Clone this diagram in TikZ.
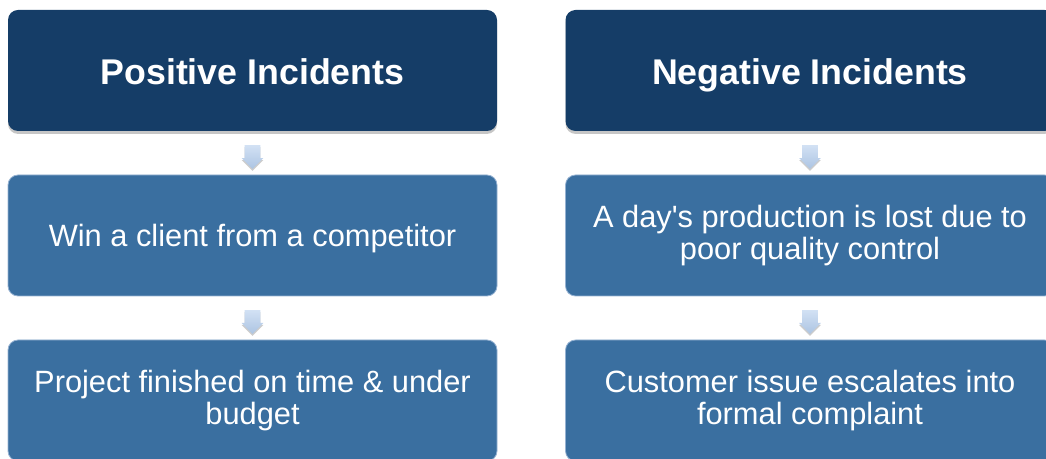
\documentclass[tikz,border=0pt]{standalone}
\usepackage{fontspec}
\setmainfont{Liberation Sans}
\usetikzlibrary{calc,shapes.arrows,shadows}

\definecolor{headblue}{RGB}{21,61,103}
\definecolor{itemblue}{RGB}{58,111,160}
\definecolor{itemrim}{RGB}{150,178,210}
\definecolor{arrowtop}{RGB}{210,225,244}
\definecolor{arrowbot}{RGB}{172,196,226}

\tikzset{every picture/.style={line width=0.75pt}}
\tikzset{
  headbox/.style={rounded corners=7.5pt, fill=headblue, text=white,
    minimum width=366.75pt, minimum height=90.75pt,
    text height=20.8pt, text depth=0pt,
    font=\fontsize{26.8}{28}\selectfont\bfseries,
    drop shadow={shadow xshift=0pt, shadow yshift=-2.2pt, opacity=0.45}},
  itembox/.style={rounded corners=7.5pt, fill=itemblue, draw=itemrim, line width=0.6pt,
    text=white, minimum width=366.75pt, minimum height=90.75pt, align=center,
    font=\fontsize{23.1}{23.5}\selectfont},
  downarrow/.style={single arrow, shape border rotate=270, top color=arrowtop,
    bottom color=arrowbot, minimum height=15.75pt, inner sep=5.6pt,
    single arrow head extend=2.25pt,
    drop shadow={shadow xshift=0pt, shadow yshift=-1.5pt, opacity=0.4}}
}

\begin{document}
\begin{tikzpicture}[x=0.75pt,y=0.75pt,yscale=-1]

\clip (0,0) rectangle (1046,459);

% left column
\node [headbox] (posHead) at (252.5,70.5) {Positive Incidents};
\node [itembox, text height=16.6pt, text depth=0pt] (posOne) at (252.5,235.5) {Win a client from a competitor};
\node [itembox] (posTwo) at (252.5,400.5) {Project finished on time \& under\\budget};

% right column
\node [headbox] (negHead) at (810,70.5) {Negative Incidents};
\node [itembox] (negOne) at (810,235.5) {A day\textquotesingle s production is lost due to\\poor quality control};
\node [itembox] (negTwo) at (810,400.5) {Customer issue escalates into\\formal complaint};

% arrows
\node [downarrow] at ($(posHead.south)!0.5!(posOne.north)$) {};
\node [downarrow] at ($(posOne.south)!0.5!(posTwo.north)$) {};
\node [downarrow] at ($(negHead.south)!0.5!(negOne.north)$) {};
\node [downarrow] at ($(negOne.south)!0.5!(negTwo.north)$) {};

\end{tikzpicture}
\end{document}
